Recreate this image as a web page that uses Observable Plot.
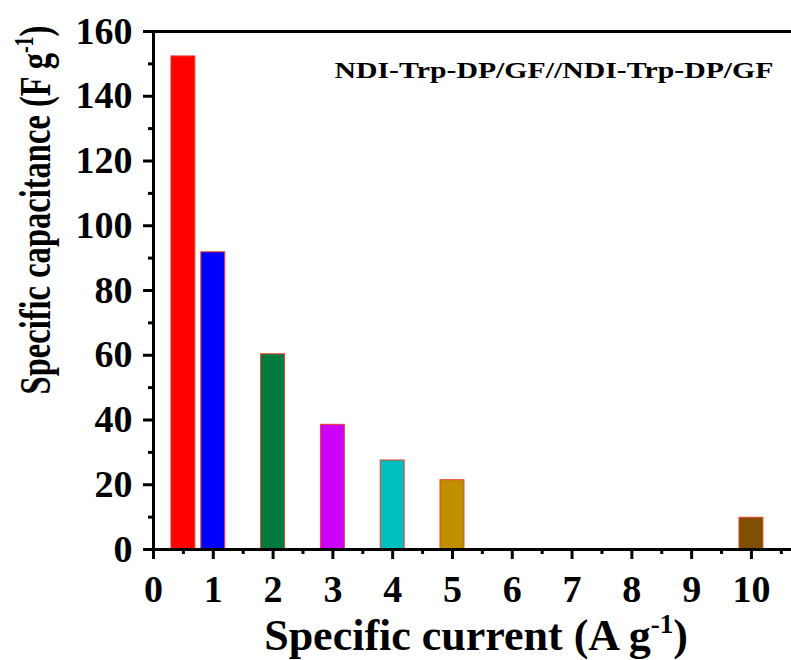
<!DOCTYPE html>
<html>
<head>
<meta charset="utf-8">
<script src="https://cdn.jsdelivr.net/npm/d3@7"></script>
<script src="https://cdn.jsdelivr.net/npm/@observablehq/plot@0.6"></script>
<style>
  html, body { margin: 0; padding: 0; background: #fff; }
  svg { display: block; }
</style>
</head>
<body>
<div id="chart"></div>
<script>
// Data
const currents = [0.5, 1, 2, 3, 4, 5, 10];              // A g^-1
const capacitances = [152.3, 91.8, 60.3, 38.5, 27.5, 21.4, 9.8]; // F g^-1
const barColors = ["#ff0000", "#0000ff", "#007a3d", "#cc00ff", "#00bfbf", "#bf8f00", "#7f5000"];
const xTicks = [0, 1, 2, 3, 4, 5, 6, 7, 8, 9, 10];
const xMinorTicks = [0.5, 1.5, 2.5, 3.5, 4.5, 5.5, 6.5, 7.5, 8.5, 9.5, 10.5];
const yTicks = [0, 20, 40, 60, 80, 100, 120, 140, 160];
const yMinorTicks = [10, 30, 50, 70, 90, 110, 130, 150];
const annotation = "NDI-Trp-DP/GF//NDI-Trp-DP/GF";

const data = currents.map((c, i) => ({current: c, cap: capacitances[i], color: barColors[i]}));
const halfWidth = 0.2;

const font = "Liberation Serif, Times New Roman, serif";

const chart = Plot.plot({
  width: 791,
  height: 660,
  marginLeft: 153,
  marginRight: 0,
  marginTop: 31,
  marginBottom: 111,
  style: {fontFamily: font, fontWeight: "bold", background: "#fff", color: "#000"},
  x: {type: "linear", domain: [0, 10.67], label: null},
  y: {domain: [0, 160], label: null},
  marks: [
    Plot.rectY(data, {
      x1: d => d.current - halfWidth,
      x2: d => d.current + halfWidth,
      y: "cap",
      fill: d => d.color,
      stroke: "#e8402a",
      strokeWidth: 1,
      inset: 0
    }),
    Plot.axisY({ticks: yTicks, tickSize: 10, tickPadding: 11, strokeWidth: 3, fontSize: 38, fontWeight: "bold", label: null}),
    Plot.axisY({ticks: yMinorTicks, tickSize: 5, strokeWidth: 3, text: null, label: null}),
    Plot.axisX({ticks: xTicks, tickSize: 10, tickPadding: 16, strokeWidth: 3, fontSize: 38, fontWeight: "bold", label: null}),
    Plot.axisX({ticks: xMinorTicks, tickSize: 5, strokeWidth: 3, text: null, label: null}),
    Plot.ruleX([0], {strokeWidth: 3}),
    Plot.ruleY([0], {strokeWidth: 3}),
    Plot.ruleY([160], {strokeWidth: 3}),
    Plot.text([annotation], {
      text: d => d,
      frameAnchor: "top-right",
      textAnchor: "end",
      lineAnchor: "bottom",
      dx: -18,
      dy: 46,
      fontSize: 23,
      fontWeight: "bold",
      fill: "#000"
    })
  ]
});

const svg = d3.select(chart);

// Stretch the annotation to the reference's width
svg.selectAll("text").filter(function() { return this.textContent === annotation; })
  .attr("textLength", 439)
  .attr("lengthAdjust", "spacingAndGlyphs");

// Axis titles with superscripts
const yTitle = svg.append("text")
  .attr("transform", "translate(50,210) rotate(-90) scale(0.74,1)")
  .attr("text-anchor", "middle")
  .attr("font-family", font)
  .attr("font-weight", "bold")
  .attr("font-size", 44)
  .attr("fill", "#000");
yTitle.append("tspan").text("Specific capacitance (F g");
yTitle.append("tspan").attr("dy", -17).attr("font-size", 27).text("-1");
yTitle.append("tspan").attr("dy", 17).text(")");

const xTitle = svg.append("text")
  .attr("transform", "translate(476,650)")
  .attr("text-anchor", "middle")
  .attr("font-family", font)
  .attr("font-weight", "bold")
  .attr("font-size", 44)
  .attr("fill", "#000");
xTitle.append("tspan").text("Specific current (A g");
xTitle.append("tspan").attr("dy", -17).attr("font-size", 27).text("-1");
xTitle.append("tspan").attr("dy", 17).text(")");

document.getElementById("chart").appendChild(chart);
</script>
</body>
</html>
